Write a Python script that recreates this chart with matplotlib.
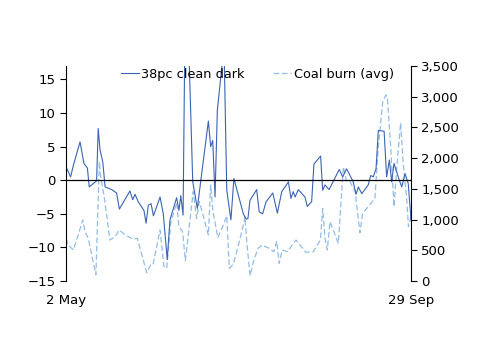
import matplotlib
matplotlib.use("Agg")
import matplotlib.pyplot as plt
from matplotlib.ticker import FuncFormatter

clean_day = [0, 2.0, 3.2, 6.1, 7.8, 9.3, 10.1, 13.3, 14.0, 14.8, 16.0, 17.0, 19.9, 22.0, 23.2,
             27.8, 29.0, 30.0, 31.4, 33.9, 34.8, 35.8, 37.0, 38.0, 40.9, 42.3, 44.0, 45.2,
             48.1, 49.1, 49.9, 50.9, 51.7, 53.2, 55.1, 57.1, 59.0, 61.9, 62.9, 63.8, 64.8,
             65.8, 68.7, 69.9, 71.7, 73.0, 77.1, 78.3, 79.1, 80.0, 82.9, 84.0, 85.5, 87.0,
             89.9, 91.9, 93.8, 96.7, 97.8, 98.8, 99.6, 101.0, 103.9, 104.9, 106.8, 107.8,
             110.7, 111.6, 112.6, 114.4, 118.8, 120.3, 122.0, 124.9, 126.1, 127.1, 128.6,
             131.4, 132.5, 133.6, 134.8, 135.8, 138.3, 139.4, 140.6, 141.6, 142.6, 143.8,
             144.9, 146.0, 147.4, 148.8, 150.0]
clean_dark = [2.0, 0.5, 2.2, 5.7, 2.5, 1.8, -1.0, -0.1, 7.7, 4.5, 2.7, -1.0, -1.4, -1.9, -4.3,
              -1.6, -2.9, -2.1, -3.2, -4.5, -6.4, -3.7, -3.5, -5.3, -2.5, -5.0, -11.8, -5.9,
              -2.6, -4.5, -2.3, -5.2, 22.0, 22.0, -0.2, -4.2, 1.0, 8.8, 5.0, 5.9, -2.5,
              10.4, 20.0, -1.5, -5.9, 0.25, -5.0, -5.8, -5.7, -3.0, -1.4, -4.7, -5.0, -3.2,
              -1.9, -4.9, -1.7, -0.25, -2.7, -1.7, -2.5, -1.4, -2.5, -3.9, -3.2, 2.4,
              3.6, -1.5, -0.7, -1.4, 1.6, 0.5, 1.7, -0.25, -2.1, -1.0, -2.0,
              -0.7, 0.7, 0.5, 1.7, 7.4, 7.3, 0.5, 3.0, -0.25, 2.5, 1.2,
              0.0, -1.0, 1.0, -0.5, -5.9]

coal_day = [0, 1.0, 3.2, 5.3, 7.3, 8.3, 9.7, 13.0, 14.5, 15.1, 16.7, 19.1, 21.3, 23.2, 25.7,
            29.3, 31.0, 35.1, 36.8, 37.8, 40.9, 42.6, 43.8, 45.5, 48.1, 49.1, 50.7, 51.9,
            55.3, 56.8, 58.0, 61.9, 62.9, 63.8, 66.0, 68.1, 69.9, 71.0, 72.7, 74.8, 77.1,
            77.8, 78.6, 80.0, 81.7, 83.5, 85.3, 88.3, 90.4, 91.6, 92.7, 94.0, 96.2, 100.0,
            104.3, 107.5, 110.6, 111.6, 112.6, 113.6, 114.8, 118.4, 120.6, 122.0, 123.5,
            125.7, 127.8, 129.0, 131.4, 134.3, 135.8, 137.7, 139.1, 139.7, 141.2, 142.6,
            143.8, 145.5, 146.6, 148.1, 148.9, 150.0]
coal_burn = [695, 586, 505, 749, 993, 803, 695, 100, 1942, 1700, 1346, 667, 721, 830, 749,
             680, 695, 135, 260, 260, 830, 233, 206, 939, 1275, 884, 803, 330,
             1454, 1021, 1291, 749, 1563, 1156, 705, 884, 1060, 206, 270, 558, 912,
             1047, 640, 85, 342, 532, 586, 532, 477, 650, 288, 505, 477, 667,
             467, 477, 667, 1180, 695, 505, 965, 613, 1861, 1617, 1617,
             1454, 786, 1102, 1210, 1346, 2186, 2919, 3028, 3000, 2160, 1210,
             1844, 2577, 1916, 1346, 884, 1050]

x_ticks = [0, 150]
x_labels = ["2 May", "29 Sep"]

plt.rcParams['font.family'] = ['DejaVu Sans']
fig = plt.figure(figsize=(5.0, 3.54), dpi=100)
ax = fig.add_axes([0.132, 0.2062, 0.690, 0.6074])
ax2 = ax.twinx()

c_dark = "#3a64b4"
c_light = "#94bde6"

l2, = ax2.plot(coal_day, coal_burn, color=c_light, lw=0.9, ls=(0, (4.5, 2.2)),
               label="Coal burn (avg)")
l1, = ax.plot(clean_day, clean_dark, color=c_dark, lw=0.8, label="38pc clean dark")
ax.set_zorder(ax2.get_zorder() + 1)
ax.patch.set_visible(False)
ax.axhline(0, color="black", lw=0.9)

ax.set_xlim(0, 150)
ax.set_ylim(-15, 17)
ax.set_yticks([-15, -10, -5, 0, 5, 10, 15])
ax2.set_ylim(0, 3500)
ax2.set_yticks(range(0, 3501, 500))
ax2.yaxis.set_major_formatter(FuncFormatter(lambda v, p: f"{int(v):,}"))

ax.set_xticks(x_ticks)
ax.set_xticklabels(x_labels)

for a in (ax, ax2):
    a.spines['top'].set_visible(False)
    a.spines['bottom'].set_visible(False)
    a.tick_params(labelsize=9.5, width=0.8, length=4, direction='out', colors='black')
ax2.spines['left'].set_visible(False)
ax.spines['right'].set_visible(False)
ax.tick_params(axis='x', length=0, pad=9)

ax.legend([l1, l2], ["38pc clean dark", "Coal burn (avg)"], loc='upper center',
          bbox_to_anchor=(0.555, 1.045), ncol=2, frameon=False, fontsize=9.3,
          handlelength=1.4, handletextpad=0.2, columnspacing=2.2)

fig.savefig("out.png", dpi=100)
